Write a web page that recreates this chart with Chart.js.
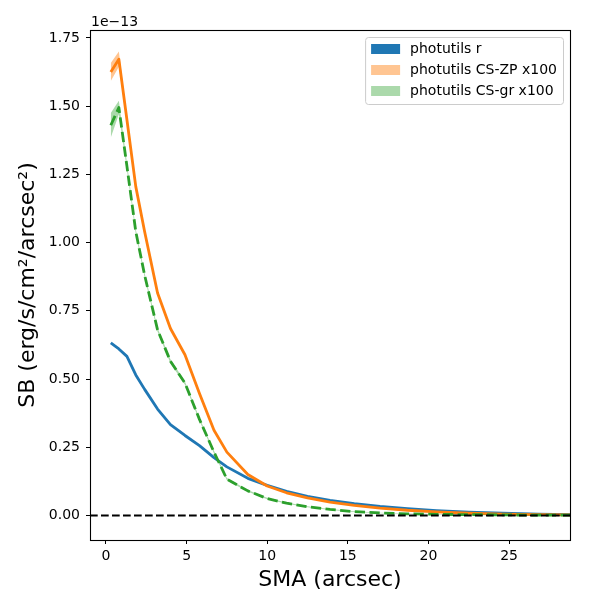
<!DOCTYPE html>
<html>
<head>
<meta charset="utf-8">
<script src="https://cdn.jsdelivr.net/npm/chart.js@4.4.1/dist/chart.umd.min.js"></script>
<style>
  html, body { margin: 0; padding: 0; background: #fff; }
  canvas { display: block; }
</style>
</head>
<body>
<canvas id="sbChart" width="600" height="600"></canvas>
<script>
// SMA sample points (arcsec)
const sma = [0.3, 0.8, 1.3, 1.85, 2.4, 3.2, 4.0, 4.9, 5.8, 6.7, 7.5, 8.8, 10.0, 11.2, 12.5, 13.9, 15.4, 17.0, 18.7, 20.5, 22.5, 24.6, 26.8, 29.0];

// surface brightness, in units of 1e-13 erg/s/cm2/arcsec2
const sbR = [0.632, 0.610, 0.583, 0.515, 0.462, 0.390, 0.333, 0.293, 0.256, 0.212, 0.178, 0.136, 0.110, 0.088, 0.070, 0.055, 0.043, 0.033, 0.025, 0.018, 0.012, 0.008, 0.005, 0.003];
const sbZP = [1.625, 1.672, 1.450, 1.205, 1.040, 0.815, 0.685, 0.589, 0.447, 0.312, 0.232, 0.150, 0.108, 0.083, 0.064, 0.049, 0.037, 0.027, 0.019, 0.013, 0.008, 0.005, 0.003, 0.002];
const sbZPErr = [0.033, 0.028, 0.012, 0.008, 0.006, 0.005, 0.004, 0.004, 0.003, 0.003, 0.002, 0.002, 0.002, 0.002, 0.001, 0.001, 0.001, 0.001, 0.001, 0.001, 0.001, 0.001, 0.001, 0.001];
const sbGR = [1.430, 1.495, 1.280, 1.040, 0.880, 0.680, 0.565, 0.485, 0.352, 0.232, 0.133, 0.090, 0.062, 0.045, 0.032, 0.022, 0.014, 0.009, 0.006, 0.004, 0.003, 0.002, 0.001, 0.001];
const sbGRErr = [0.045, 0.025, 0.012, 0.009, 0.008, 0.007, 0.007, 0.006, 0.005, 0.005, 0.004, 0.003, 0.003, 0.002, 0.002, 0.002, 0.001, 0.001, 0.001, 0.001, 0.001, 0.001, 0.001, 0.001];

const seriesNames = ['photutils r', 'photutils CS-ZP x100', 'photutils CS-gr x100'];
const xTicks = [0, 5, 10, 15, 20, 25];
const yTicks = [0, 0.25, 0.5, 0.75, 1.0, 1.25, 1.5, 1.75];

const BLUE = '#1f77b4', ORANGE = '#ff7f0e', GREEN = '#2ca02c';
const ORANGE_BAND = 'rgba(255,127,14,0.45)';
const GREEN_BAND = 'rgba(44,160,44,0.4)';
const LW = 2.8;

function pts(ys, off, sign) {
    return sma.map((x, i) => ({ x: x, y: ys[i] + (off ? sign * off[i] : 0) }));
}

Chart.defaults.font.family = 'DejaVu Sans';
Chart.defaults.color = '#000';

// frame, zero line, offset text and legend (matplotlib style)
const mplExtras = {
    id: 'mplExtras',
    afterDatasetsDraw(chart) {
        const { ctx, chartArea: a, scales: { y } } = chart;
        const y0 = y.getPixelForValue(0);
        ctx.save();
        ctx.beginPath();
        ctx.rect(a.left, a.top, a.right - a.left, a.bottom - a.top);
        ctx.clip();
        ctx.strokeStyle = '#000';
        ctx.lineWidth = 2.1;
        ctx.setLineDash([7.7, 3.3]);
        ctx.beginPath();
        ctx.moveTo(a.left, y0);
        ctx.lineTo(a.right, y0);
        ctx.stroke();
        ctx.restore();
    },
    afterDraw(chart) {
        const { ctx, chartArea: a } = chart;
        ctx.save();
        // axes frame
        ctx.strokeStyle = '#000';
        ctx.lineWidth = 1.1;
        ctx.strokeRect(a.left + 0.5, a.top + 0.5, a.right - a.left, a.bottom - a.top);

        // offset text
        ctx.font = '14px "DejaVu Sans"';
        ctx.fillStyle = '#000';
        ctx.textBaseline = 'alphabetic';
        ctx.textAlign = 'left';
        ctx.fillText('1e\u221213', a.left + 1, a.top - 4);

        // legend
        const colors = [BLUE, ORANGE_BAND, GREEN_BAND];
        const textW = Math.max(...seriesNames.map(s => ctx.measureText(s).width));
        const boxW = 6 + 29 + 10 + textW + 6;
        const boxH = 67;
        const bx = a.right - 7 - boxW, by = a.top + 7;
        ctx.beginPath();
        ctx.roundRect(bx + 0.5, by + 0.5, boxW, boxH, 3);
        ctx.fillStyle = 'rgba(255,255,255,0.8)';
        ctx.fill();
        ctx.strokeStyle = '#cccccc';
        ctx.lineWidth = 1;
        ctx.stroke();
        ctx.textBaseline = 'middle';
        seriesNames.forEach((name, i) => {
            const cy = by + 12 + i * 21;
            ctx.fillStyle = colors[i];
            ctx.fillRect(bx + 6, cy - 5, 29, 10);
            ctx.fillStyle = '#000';
            ctx.fillText(name, bx + 45, cy);
        });
        ctx.restore();
    }
};

const ctx = document.getElementById('sbChart').getContext('2d');
new Chart(ctx, {
    type: 'line',
    data: {
        datasets: [
            { label: seriesNames[2], data: pts(sbGR), borderColor: GREEN, borderWidth: LW, borderDash: [10.3, 4.4], order: 0 },
            { label: 'gr hi', data: pts(sbGR, sbGRErr, 1), borderWidth: 0, backgroundColor: GREEN_BAND, fill: '+1', order: 1 },
            { label: 'gr lo', data: pts(sbGR, sbGRErr, -1), borderWidth: 0, fill: false, order: 2 },
            { label: seriesNames[1], data: pts(sbZP), borderColor: ORANGE, borderWidth: LW, order: 3 },
            { label: 'zp hi', data: pts(sbZP, sbZPErr, 1), borderWidth: 0, backgroundColor: ORANGE_BAND, fill: '+1', order: 4 },
            { label: 'zp lo', data: pts(sbZP, sbZPErr, -1), borderWidth: 0, fill: false, order: 5 },
            { label: seriesNames[0], data: pts(sbR), borderColor: BLUE, borderWidth: LW, order: 6 }
        ]
    },
    options: {
        responsive: false,
        animation: false,
        devicePixelRatio: 1,
        elements: { point: { radius: 0 }, line: { tension: 0, borderJoinStyle: 'round', borderCapStyle: 'butt' } },
        layout: { padding: { left: 0, right: 30, top: 30, bottom: 0 } },
        plugins: { legend: { display: false }, tooltip: { enabled: false } },
        scales: {
            x: {
                type: 'linear',
                min: -0.99,
                max: 28.78,
                afterFit: s => { s.height = 60; },
                afterBuildTicks: s => { s.ticks = xTicks.map(v => ({ value: v })); },
                grid: { drawOnChartArea: false, drawTicks: true, tickLength: 4, color: '#000' },
                border: { display: false },
                ticks: { font: { size: 14 }, padding: 4, maxRotation: 0, callback: v => String(v) },
                title: { display: true, text: 'SMA (arcsec)', font: { size: 22 }, padding: { top: 0, bottom: 7 } }
            },
            y: {
                min: -0.09,
                max: 1.779,
                afterFit: s => { s.width = 90; },
                afterBuildTicks: s => { s.ticks = yTicks.map(v => ({ value: v })); },
                grid: { drawOnChartArea: false, drawTicks: true, tickLength: 4, color: '#000' },
                border: { display: false },
                ticks: { font: { size: 14 }, padding: 6, callback: v => v.toFixed(2) },
                title: { display: true, text: 'SB (erg/s/cm\u00b2/arcsec\u00b2)', font: { size: 22 }, padding: { top: 15, bottom: 0 } }
            }
        }
    },
    plugins: [mplExtras]
});
</script>
</body>
</html>
